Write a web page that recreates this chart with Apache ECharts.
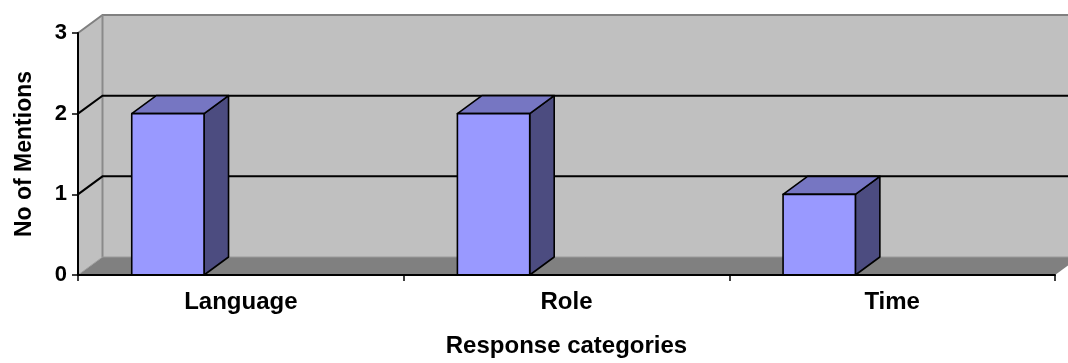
<!DOCTYPE html>
<html>
<head>
<meta charset="utf-8">
<script src="https://cdn.jsdelivr.net/npm/echarts@6/dist/echarts.min.js"></script>
<style>
html,body{margin:0;padding:0;background:#fff;}
#c{width:1068px;height:363px;}
</style>
</head>
<body>
<div id="c"></div>
<script>
var categories = ['Language', 'Role', 'Time'];
var mentions = [2, 2, 1];
var yTicks = [0, 1, 2, 3];
var gridValues = [1, 2];

var DX = 24.5, DY = -18;
var FONT = '"Liberation Sans", Arial, sans-serif';

var chart = echarts.init(document.getElementById('c'), null, {renderer: 'canvas'});

function wallItem(params, api) {
  var cs = params.coordSys;
  var x0 = cs.x, x1 = cs.x + cs.width, yT = cs.y, yB = cs.y + cs.height;
  var children = [];
  children.push({type: 'polygon', shape: {points: [[x0 + DX, yT + DY], [x1 + DX + 20, yT + DY], [x1 + DX + 20, yB + DY], [x0 + DX, yB + DY]]},
    style: {fill: '#C0C0C0', stroke: null}});
  children.push({type: 'polygon', shape: {points: [[x0, yT], [x0 + DX, yT + DY], [x0 + DX, yB + DY], [x0, yB]]},
    style: {fill: '#C0C0C0', stroke: null}});
  children.push({type: 'polygon', shape: {points: [[x0, yB], [x1, yB], [x1 + DX, yB + DY], [x0 + DX, yB + DY]]},
    style: {fill: '#808080', stroke: null}});
  children.push({type: 'polyline', shape: {points: [[x0, yT], [x0 + DX, yT + DY], [x1 + DX + 20, yT + DY]]},
    style: {stroke: '#808080', lineWidth: 2, fill: null}});
  children.push({type: 'line', shape: {x1: x0 + DX, y1: yT + DY, x2: x0 + DX, y2: yB + DY},
    style: {stroke: '#8a8a8a', lineWidth: 2}});
  children.push({type: 'line', shape: {x1: x0 + DX, y1: yB + DY, x2: x1 + DX + 20, y2: yB + DY},
    style: {stroke: '#9a9a9a', lineWidth: 1}});
  children.push({type: 'line', shape: {x1: x0, y1: yB, x2: x0 + DX, y2: yB + DY},
    style: {stroke: '#a0a0a0', lineWidth: 1}});
  gridValues.forEach(function (v) {
    var y = api.coord([0, v])[1];
    children.push({type: 'polyline', shape: {points: [[x0, y], [x0 + DX, y + DY], [x1 + DX + 20, y + DY]]},
      style: {stroke: '#000', lineWidth: 2, fill: null}});
  });
  return {type: 'group', children: children};
}

function barItem(params, api) {
  var idx = api.value(0);
  var val = api.value(1);
  var center = api.coord([idx, val]);
  var base = api.coord([idx, 0]);
  var band = api.size([1, 0])[0];
  var start = center[0] - band / 2;
  var L = start + band * 0.165;
  var W = band * 0.222;
  var yT = center[1], yB = base[1];
  var st = {stroke: '#000', lineWidth: 1.6, lineJoin: 'round'};
  return {type: 'group', children: [
    {type: 'polygon', shape: {points: [[L + W, yT], [L + W + DX, yT + DY], [L + W + DX, yB + DY], [L + W, yB]]},
      style: Object.assign({fill: '#4C4C80'}, st)},
    {type: 'polygon', shape: {points: [[L, yT], [L + DX, yT + DY], [L + W + DX, yT + DY], [L + W, yT]]},
      style: Object.assign({fill: '#7676C2'}, st)},
    {type: 'rect', shape: {x: L, y: yT, width: W, height: yB - yT},
      style: Object.assign({fill: '#9999FF'}, st)}
  ]};
}

chart.setOption({
  animation: false,
  backgroundColor: '#ffffff',
  grid: {left: 78, right: 13, top: 33, bottom: 85},
  xAxis: {
    type: 'category',
    data: categories,
    boundaryGap: true,
    axisLine: {lineStyle: {color: '#000', width: 2}},
    axisTick: {show: true, length: 6, lineStyle: {color: '#000', width: 1.5}},
    axisLabel: {color: '#000', fontFamily: FONT, fontWeight: 'bold', fontSize: 24, margin: 15},
    name: 'Response categories',
    nameLocation: 'middle',
    nameGap: 59,
    nameTextStyle: {color: '#000', fontFamily: FONT, fontWeight: 'bold', fontSize: 24},
    z: 10
  },
  yAxis: {
    type: 'value',
    min: 0, max: 3, interval: 1,
    splitLine: {show: false},
    axisLine: {show: true, lineStyle: {color: '#000', width: 2}},
    axisTick: {show: true, length: 6, lineStyle: {color: '#000', width: 1.5}},
    axisLabel: {color: '#000', fontFamily: FONT, fontWeight: 'bold', fontSize: 22, margin: 11,
      formatter: function (v) { return yTicks.indexOf(v) >= 0 ? String(v) : ''; }},
    name: 'No of Mentions',
    nameLocation: 'middle',
    nameGap: 42,
    nameRotate: 90,
    nameTextStyle: {color: '#000', fontFamily: FONT, fontWeight: 'bold', fontSize: 23},
    z: 10
  },
  series: [
    {type: 'custom', renderItem: wallItem, data: [[0, 0]], clip: false, silent: true, z: 1},
    {type: 'custom', renderItem: barItem, data: mentions.map(function (v, i) { return [i, v]; }),
      encode: {x: 0, y: 1}, clip: false, z: 5}
  ]
});
</script>
</body>
</html>
